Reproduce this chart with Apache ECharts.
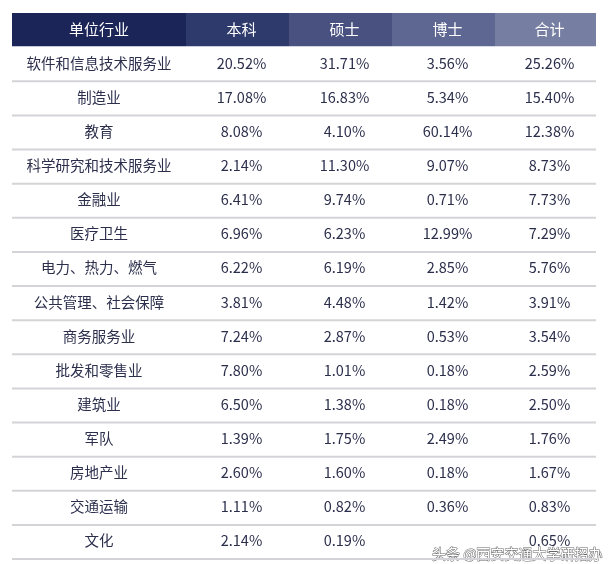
<!DOCTYPE html>
<html>
<head>
<meta charset="utf-8">
<script src="https://cdn.jsdelivr.net/npm/echarts@6/dist/echarts.min.js"></script>
<style>html,body{margin:0;padding:0;background:#fff}#main{width:611px;height:564px}</style>
</head>
<body>
<div id="main"></div>
<script>
// ----表格数据----
var headers = ['单位行业', '本科', '硕士', '博士', '合计'];
var industries = ['软件和信息技术服务业', '制造业', '教育', '科学研究和技术服务业', '金融业', '医疗卫生',
    '电力、热力、燃气', '公共管理、社会保障', '商务服务业', '批发和零售业', '建筑业', '军队', '房地产业', '交通运输', '文化'];
var bachelor = ['20.52%', '17.08%', '8.08%', '2.14%', '6.41%', '6.96%', '6.22%', '3.81%', '7.24%', '7.80%', '6.50%', '1.39%', '2.60%', '1.11%', '2.14%'];
var master = ['31.71%', '16.83%', '4.10%', '11.30%', '9.74%', '6.23%', '6.19%', '4.48%', '2.87%', '1.01%', '1.38%', '1.75%', '1.60%', '0.82%', '0.19%'];
var doctor = ['3.56%', '5.34%', '60.14%', '9.07%', '0.71%', '12.99%', '2.85%', '1.42%', '0.53%', '0.18%', '0.18%', '2.49%', '0.18%', '0.36%', ''];
var total = ['25.26%', '15.40%', '12.38%', '8.73%', '7.73%', '7.29%', '5.76%', '3.91%', '3.54%', '2.59%', '2.50%', '1.76%', '1.67%', '0.83%', '0.65%'];

var colEdges = [0, 174, 277, 380, 483, 584];
var headColors = ['#1b2558', '#2e3a6c', '#485180', '#5e6791', '#767ea1'];

var rows = ['header'].concat(industries);
var cells = [];
for (var r = 0; r < rows.length; r++) {
    for (var c = 0; c < 5; c++) {
        var txt;
        if (r === 0) txt = headers[c];
        else txt = [industries, bachelor, master, doctor, total][c][r - 1];
        cells.push([c, r, txt]);
    }
}

var myChart = echarts.init(document.getElementById('main'));
var option = {
    animation: false,
    grid: { left: 12, top: 13, width: 584, height: 546 },
    xAxis: { type: 'value', min: 0, max: 584, show: false },
    yAxis: { type: 'category', data: rows, inverse: true, show: false },
    series: [{
        type: 'custom',
        data: cells,
        renderItem: function (params, api) {
            var c = api.value(0), r = api.value(1), txt = cells[params.dataIndex][2];
            var p0 = api.coord([colEdges[c], r]);
            var p1 = api.coord([colEdges[c + 1], r]);
            var h = api.size([0, 1])[1];
            var x = p0[0], y = p0[1] - h / 2, w = p1[0] - p0[0];
            var children = [];
            if (r === 0) {
                children.push({ type: 'rect', shape: { x: x, y: y, width: w, height: h - 1 }, style: { fill: headColors[c] } });
            } else {
                children.push({ type: 'rect', shape: { x: x, y: y + h - 1, width: w, height: 2 }, style: { fill: '#d4d4d8' } });
            }
            children.push({
                type: 'text',
                style: {
                    text: txt, x: x + w / 2 + (c > 0 ? 4 : 0), y: y + h / 2 - 1,
                    align: 'center', verticalAlign: 'middle',
                    fill: r === 0 ? '#ffffff' : '#2b2f4c',
                    font: (r === 0 ? '15px' : '14.5px') + ' "Noto Sans CJK SC", sans-serif'
                }
            });
            return { type: 'group', children: children };
        }
    }],
    graphic: [{
        type: 'text', right: 8, top: 546,
        style: {
            text: '头条 @西安交通大学研招办', fill: '#ffffff', stroke: '#666', lineWidth: 1,
            font: '14px "Noto Sans CJK SC", sans-serif'
        }
    }]
};
myChart.setOption(option);
</script>
</body>
</html>
